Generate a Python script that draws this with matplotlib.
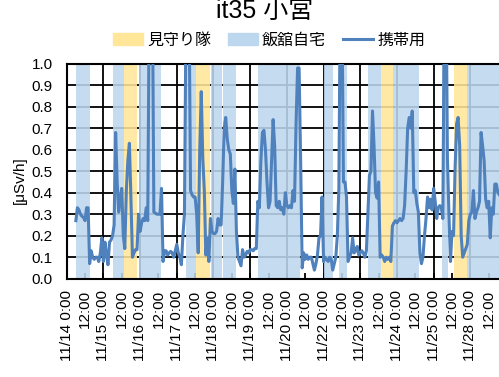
import numpy as np
import matplotlib
matplotlib.use("Agg")
import matplotlib.pyplot as plt
from matplotlib.patches import Patch
from matplotlib.lines import Line2D

plt.rcParams['font.family'] = ['Liberation Sans', 'Noto Sans CJK JP']

# hourly readings of the portable dosimeter, first value is 11/14 6:00
start_hour = 6
dose = [
    0.27, 0.33, 0.32, 0.30, 0.29, 0.285, 0.27, 0.33, 0.33, 0.07,   # 6-15
    0.13, 0.10, 0.09, 0.10, 0.10, 0.08, 0.12, 0.19, 0.08, 0.17,    # 16-25
    0.11, 0.065, 0.17, 0.18, 0.20, 0.25, 0.68, 0.45, 0.31, 0.375,  # 26-35
    0.42, 0.20, 0.14, 0.41, 0.55, 0.63, 0.375, 0.10, 0.12, 0.135,  # 36-45
    0.135, 0.30, 0.22, 0.26, 0.28, 0.27, 0.33, 0.27, 1.30, 1.60,   # 46-55
    1.40, 0.31, 0.305, 0.30, 0.30, 0.30, 0.42, 0.08, 0.13, 0.13,   # 56-65
    0.11, 0.12, 0.127, 0.12, 0.10, 0.13, 0.16, 0.12, 0.10, 0.065,  # 66-75
    0.20, 0.30, 1.20, 1.50, 1.30, 0.41, 0.39, 0.38, 0.38, 0.30,    # 76-85
    0.12, 0.60, 0.87, 0.56, 0.41, 0.11, 0.19, 0.08, 0.28, 0.22,    # 86-95
    0.21, 0.21, 0.22, 0.28, 0.25, 0.25, 0.45, 0.70, 0.75, 0.65,    # 96-105
    0.60, 0.58, 0.41, 0.35, 0.51, 0.22, 0.10, 0.08, 0.06, 0.135,   # 106-115
    0.10, 0.11, 0.127, 0.12, 0.135, 0.135, 0.13, 0.14, 0.14, 0.36, # 116-125
    0.33, 0.55, 0.68, 0.69, 0.60, 0.45, 0.33, 0.36, 0.55, 0.74,    # 126-135
    0.62, 0.34, 0.33, 0.36, 0.32, 0.33, 0.30, 0.40, 0.34, 0.33,    # 136-145
    0.34, 0.33, 0.41, 0.36, 0.72, 0.98, 0.98, 0.55, 0.05, 0.12,    # 146-155
    0.09, 0.11, 0.09, 0.10, 0.10, 0.07, 0.04, 0.07, 0.11, 0.19,    # 156-165
    0.20, 0.38, 0.08, 0.10, 0.09, 0.08, 0.10, 0.09, 0.04, 0.07,    # 166-175
    0.10, 0.20, 0.42, 1.40, 1.30, 0.45, 0.45, 0.38, 0.08, 0.10,    # 176-185
    0.12, 0.19, 0.12, 0.13, 0.15, 0.11, 0.12, 0.13, 0.12, 0.10,    # 186-195
    0.13, 0.30, 0.48, 0.50, 0.78, 0.62, 0.40, 0.375, 0.45, 0.10,   # 196-205
    0.11, 0.10, 0.08, 0.10, 0.09, 0.10, 0.08, 0.245, 0.26, 0.27,   # 206-215
    0.26, 0.27, 0.28, 0.27, 0.28, 0.34, 0.50, 0.70, 0.75, 0.70,    # 216-225
    0.78, 0.40, 0.41, 0.35, 0.31, 0.12, 0.07, 0.10, 0.20, 0.28,    # 226-235
    0.38, 0.33, 0.37, 0.32, 0.42, 0.36, 0.28, 0.33, 0.34, 0.33,    # 236-245
    0.28, 1.30, 1.50, 0.56, 0.30, 0.08, 0.22, 0.20, 0.51, 0.72,    # 246-255
    0.75, 0.62, 0.20, 0.10, 0.12, 0.14, 0.16, 0.27, 0.30, 0.31,    # 256-265
    0.41, 0.28, 0.31, 0.33, 0.36, 0.68, 0.62, 0.55, 0.37, 0.33,    # 266-275
    0.36, 0.19, 0.33, 0.30, 0.44, 0.44, 0.40, 0.39,                # 276-283
]

# time spans (hour index) spent at home in Iitate and with the patrol
home_spans = [(6, 15), (30.5, 37.5), (47, 62), (78, 84.5), (94.5, 101.5),
              (102.5, 110.5), (125, 152.5), (168, 174), (178, 183),
              (197, 205.5), (213.5, 230.5), (245.5, 249.5), (262, 300)]
patrol_spans = [(37.5, 46), (84.5, 94), (205.5, 213.5), (253.5, 262)]

days = ['11/14', '11/15', '11/16', '11/17', '11/18', '11/19',
        '11/20', '11/22', '11/23', '11/24', '11/25', '11/28']
tick_labels = []
for d in days:
    tick_labels += [d + ' 0:00', '12:00']

col_home = '#BDD7EE'
col_patrol = '#FFE699'
col_line = '#4F81BD'

fig = plt.figure(figsize=(4.99, 3.77), dpi=100)
ax = fig.add_axes([66.7 / 499, 98.3 / 377, 300 * 1.529 / 499, 215 / 377])

hours = np.arange(start_hour, start_hour + len(dose))

for a, b in home_spans:
    ax.axvspan(a, b, color=col_home, alpha=0.88, lw=0, zorder=1)
for a, b in patrol_spans:
    ax.axvspan(a, b, color=col_patrol, alpha=0.88, lw=0, zorder=1)

ax.plot(hours, dose, color=col_line, lw=2.2, zorder=3)

# grid: every 0.1 and one line per day
ax.set_axisbelow(True)
ax.grid(axis='y', color='black', lw=1.3)
for d in range(24, 300, 24):
    ax.axvline(d, color='black', lw=1.3, zorder=0.5)

ax.set_xlim(0, 300)
ax.set_ylim(0, 1.0)
ax.set_yticks(np.arange(0, 1.01, 0.1))
ax.set_yticklabels([f'{v:.1f}' for v in np.arange(0, 1.01, 0.1)])
ax.set_xticks(np.arange(0, 12 * len(tick_labels), 12))
ax.set_xticklabels(tick_labels, rotation=90)

ax.tick_params(axis='y', length=0, pad=10, labelsize=11)
ax.tick_params(axis='x', direction='in', length=4, width=1.3, pad=8,
               labelsize=11, color='black')

ax.spines['right'].set_visible(False)
for s in ['left', 'bottom', 'top']:
    ax.spines[s].set_color('black')
    ax.spines[s].set_linewidth(1.5)

fig.text(20 / 499, 1 - 180 / 377, '[μSv/h]', rotation=90, fontsize=11,
         ha='center', va='center')
fig.text(265 / 499, 1 - 18.3 / 377, 'it35 小宮', fontsize=18,
         ha='center', va='baseline')

handles = [Patch(color=col_patrol, label='見守り隊'),
           Patch(color=col_home, label='飯舘自宅'),
           Line2D([], [], color=col_line, lw=2.2, label='携帯用')]
fig.legend(handles=handles, loc='center', bbox_to_anchor=(269 / 499, 1 - 40 / 377),
           ncol=3, frameon=False, fontsize=11.5, handlelength=1.9,
           handletextpad=0.25, columnspacing=1.05, borderaxespad=0)

fig.savefig('out.png', dpi=100)
